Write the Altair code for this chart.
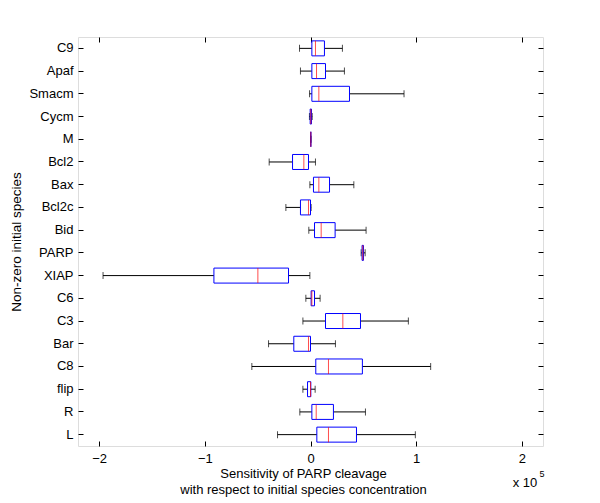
import altair as alt
import pandas as pd

species = ["C9", "Apaf", "Smacm", "Cycm", "M", "Bcl2", "Bax", "Bcl2c", "Bid",
           "PARP", "XIAP", "C6", "C3", "Bar", "C8", "flip", "R", "L"]
# values in units of 1e5
lower_whisker = [-0.104, -0.095, -0.009, -0.010, 0.003, -0.391, -0.006, -0.233, -0.016,
                 0.479, -1.963, -0.044, -0.072, -0.397, -0.555, -0.072, -0.101, -0.312]
q1 = [0.013, 0.013, 0.013, -0.003, 0.003, -0.170, 0.028, -0.095, 0.038,
      0.488, -0.914, 0.006, 0.142, -0.158, 0.050, -0.028, 0.013, 0.060]
median = [0.047, 0.057, 0.079, 0.003, 0.003, -0.063, 0.079, -0.019, 0.101,
          0.495, -0.498, 0.013, 0.306, -0.019, 0.170, 0.000, 0.054, 0.170]
q3 = [0.132, 0.142, 0.369, 0.009, 0.003, -0.019, 0.180, 0.000, 0.233,
      0.501, -0.208, 0.038, 0.473, 0.000, 0.491, 0.003, 0.217, 0.435]
upper_whisker = [0.302, 0.321, 0.885, 0.016, 0.003, 0.047, 0.410, 0.006, 0.526,
                 0.517, -0.006, 0.091, 0.926, 0.236, 1.137, 0.044, 0.520, 0.992]
x_ticks = [-2, -1, 0, 1, 2]

df = pd.DataFrame({"species": species, "lo": lower_whisker, "q1": q1,
                   "med": median, "q3": q3, "hi": upper_whisker})

FONT = "Liberation Sans"
FS = 13

xscale = alt.Scale(domain=[-2.2, 2.2], nice=False, zero=False)
yscale = alt.Scale(domain=species, paddingInner=0, paddingOuter=0)

x_bottom = alt.Axis(orient="bottom", values=x_ticks, format="d", tickSize=5, offset=-5,
                    domain=False, grid=False, labelPadding=6, labelFontSize=FS,
                    labelColor="black", tickColor="black", labelFont=FONT,
                    title=["Sensitivity of PARP cleavage",
                           "with respect to initial species concentration"],
                    titleFontSize=FS, titleFont=FONT, titleFontWeight="normal",
                    titleColor="black", titlePadding=2, titleLineHeight=16, titleX=225)
y_left = alt.Axis(orient="left", tickSize=5, offset=-5, domain=False, grid=False,
                  labelPadding=5, labelFontSize=FS, labelColor="black", tickColor="black",
                  labelFont=FONT, title="Non-zero initial species", titleFontSize=13.5,
                  titleFont=FONT, titleFontWeight="normal", titleColor="black",
                  titlePadding=5)
x_top = alt.Axis(orient="top", values=x_ticks, labels=False, tickSize=5, offset=-5,
                 domain=False, grid=False, tickColor="black", title=None)
y_right = alt.Axis(orient="right", labels=False, tickSize=5, offset=-5, domain=False,
                   grid=False, tickColor="black", title=None)

base = alt.Chart(df)

whisk_lo = base.mark_rule(color="black", strokeWidth=1).encode(
    x=alt.X("lo:Q", scale=xscale, axis=x_bottom),
    x2="q1:Q",
    y=alt.Y("species:N", scale=yscale, axis=y_left),
)
whisk_hi = base.mark_rule(color="black", strokeWidth=1).encode(
    x=alt.X("q3:Q", scale=xscale, axis=x_top),
    x2="hi:Q",
    y=alt.Y("species:N", scale=yscale, axis=y_right),
)
cap_lo = base.mark_tick(color="black", size=7, thickness=1).encode(
    x=alt.X("lo:Q", scale=xscale, axis=None),
    y=alt.Y("species:N", scale=yscale, axis=None),
)
cap_hi = base.mark_tick(color="black", size=7, thickness=1).encode(
    x=alt.X("hi:Q", scale=xscale, axis=None),
    y=alt.Y("species:N", scale=yscale, axis=None),
)
box = base.mark_bar(filled=False, color="#0000ff", size=15, strokeWidth=1).encode(
    x=alt.X("q1:Q", scale=xscale, axis=None),
    x2="q3:Q",
    y=alt.Y("species:N", scale=yscale, axis=None),
)
med = base.mark_tick(color="#ff0000", size=15, thickness=1).encode(
    x=alt.X("med:Q", scale=xscale, axis=None),
    y=alt.Y("species:N", scale=yscale, axis=None),
)

exp_text = alt.Chart(pd.DataFrame({"t": ["x 10"]})).mark_text(
    font=FONT, fontSize=FS, color="black", align="center", baseline="middle").encode(
    x=alt.value(447), y=alt.value(446), text="t:N")
sup_text = alt.Chart(pd.DataFrame({"t": ["5"]})).mark_text(
    font=FONT, fontSize=9, color="black", align="center", baseline="middle").encode(
    x=alt.value(464), y=alt.value(437), text="t:N")

chart = alt.layer(whisk_lo, whisk_hi, cap_lo, cap_hi, box, med, exp_text, sup_text).resolve_axis(
    x="independent", y="independent"
).properties(
    width=465, height=409,
    padding={"left": 70, "top": 29, "right": 49, "bottom": 57},
    autosize=alt.AutoSizeParams(type="none"),
).configure_view(stroke="black", strokeWidth=1).configure(background="white")

chart.save("out.html", embed_options={"renderer": "svg", "actions": False})
